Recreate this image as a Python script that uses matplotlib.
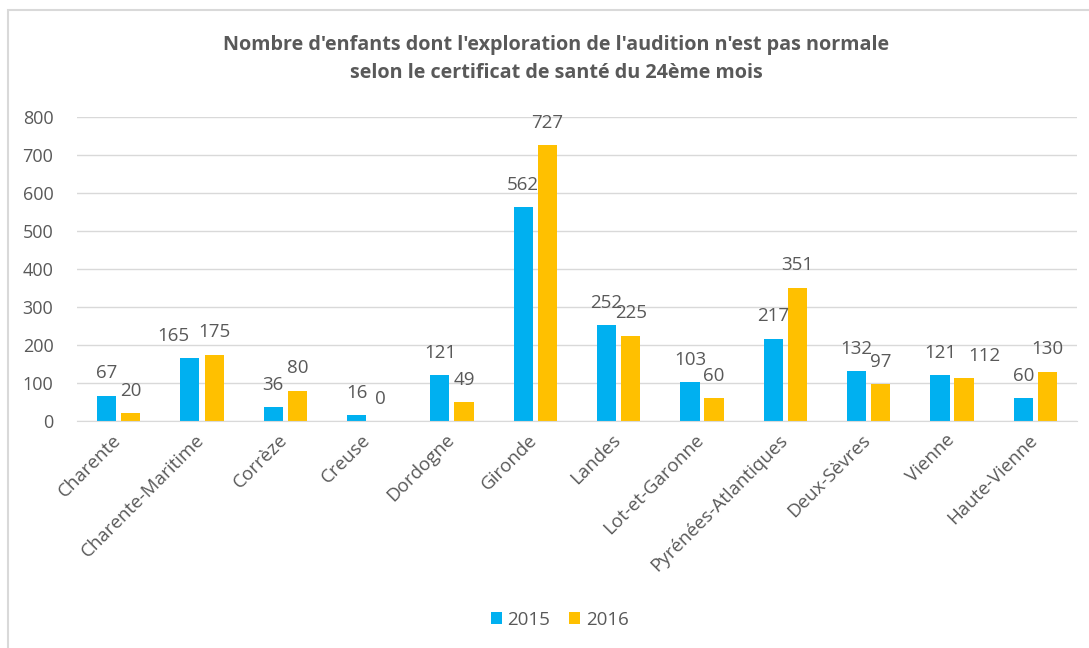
import numpy as np
import matplotlib.pyplot as plt
from matplotlib.patches import Rectangle
from matplotlib.transforms import ScaledTranslation

# departements and counts
departements = ['Charente', 'Charente-Maritime', 'Corrèze', 'Creuse', 'Dordogne',
                'Gironde', 'Landes', 'Lot-et-Garonne', 'Pyrénées-Atlantiques',
                'Deux-Sèvres', 'Vienne', 'Haute-Vienne']
val_2015 = [67, 165, 36, 16, 121, 562, 252, 103, 217, 132, 121, 60]
val_2016 = [20, 175, 80, 0, 49, 727, 225, 60, 351, 97, 112, 130]
yticks = [0, 100, 200, 300, 400, 500, 600, 700, 800]

blue = '#00B0F0'
yellow = '#FFC000'
txt = '#595959'

# Excel pushed a couple of labels sideways to avoid overlaps (series, index) -> px
nudge = {(0, 1): -17, (1, 10): 20}

plt.rcParams['font.family'] = ['Open Sans', 'DejaVu Sans']

fig = plt.figure(figsize=(10.89, 6.48), dpi=100)
# chart frame, right/bottom edges cut off like the screenshot
fig.patches.append(Rectangle((8 / 1089, -0.1), 1.2, (648 - 10) / 648 + 0.1,
                             transform=fig.transFigure, fill=False,
                             edgecolor='#D9D9D9', linewidth=1.5))

ax = fig.add_axes([77 / 1089, 1 - 421 / 648, 1000 / 1089, (421 - 117) / 648])

x = np.arange(len(departements))
w = 0.23
off = 0.145
b1 = ax.bar(x - off, val_2015, w, color=blue, label='2015')
b2 = ax.bar(x + off, val_2016, w, color=yellow, label='2016')

for si, (bars, vals) in enumerate(((b1, val_2015), (b2, val_2016))):
    for i, (r, v) in enumerate(zip(bars, vals)):
        dx = nudge.get((si, i), 0) * 0.72
        ax.annotate(str(v), (r.get_x() + r.get_width() / 2, v),
                    xytext=(dx, 16), textcoords='offset points',
                    ha='center', va='center', fontsize=13.5, color=txt)

ax.set_xlim(-0.5, len(departements) - 0.5)
ax.set_ylim(0, 800)
ax.set_yticks(yticks)
ax.yaxis.grid(True, color='#D9D9D9', linewidth=1)
ax.set_axisbelow(True)
for s in ['top', 'right', 'left']:
    ax.spines[s].set_visible(False)
ax.spines['bottom'].set_color('#D9D9D9')
ax.tick_params(axis='both', length=0, colors=txt)
ax.tick_params(axis='y', pad=17, labelsize=13)
ax.set_xticks(x)
ax.set_xticklabels(departements, rotation=45, ha='right', rotation_mode='anchor',
                   fontsize=13.5)
ax.tick_params(axis='x', pad=7)
shift = ScaledTranslation(-7 / 100, 0, fig.dpi_scale_trans)
for lab in ax.get_xticklabels():
    lab.set_transform(lab.get_transform() + shift)

fig.text(0.511, 1 - 45 / 648, "Nombre d'enfants dont l'exploration de l'audition n'est pas normale",
         ha='center', va='center', fontsize=14.2, fontweight='bold', color=txt)
fig.text(0.511, 1 - 73 / 648, "selon le certificat de santé du 24ème mois",
         ha='center', va='center', fontsize=14.2, fontweight='bold', color=txt)

fig.legend(handles=[b1, b2], loc='center', bbox_to_anchor=(0.514, 1 - 620 / 648),
           ncol=2, frameon=False, fontsize=13.5, labelcolor=txt,
           handlelength=0.6, handleheight=0.6, handletextpad=0.3, columnspacing=1.0)

fig.savefig('out.png', dpi=100)
